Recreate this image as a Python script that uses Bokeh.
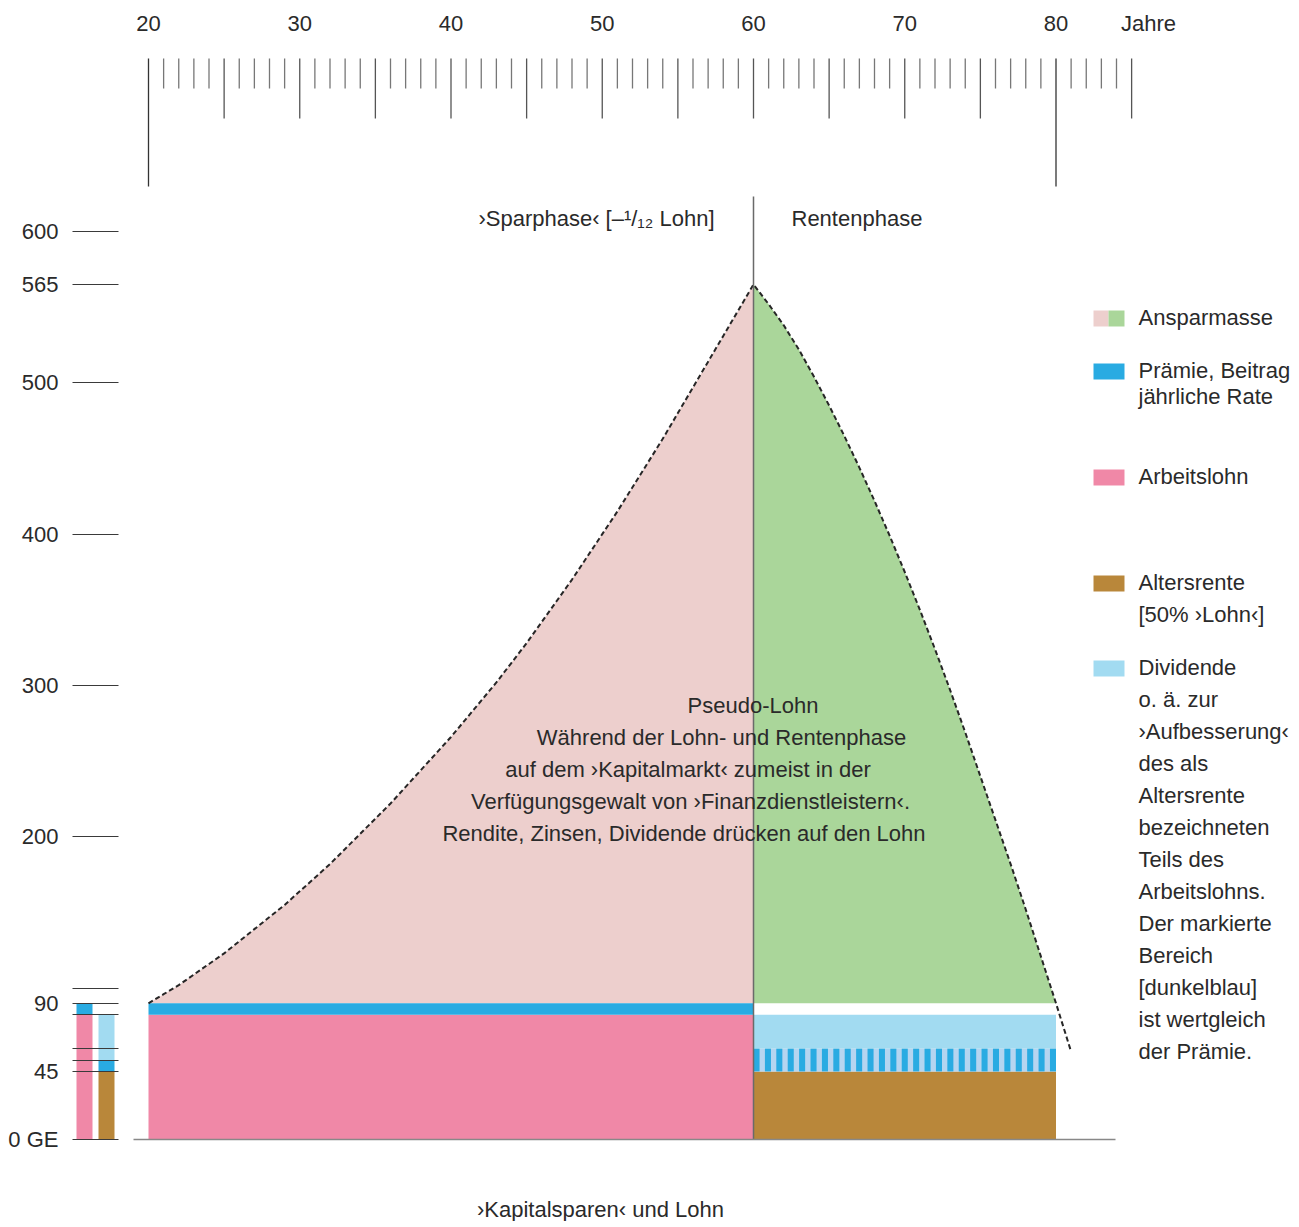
import numpy as np
from bokeh.plotting import figure
from bokeh.models import Range1d, FixedTicker
from bokeh.core.properties import value
from bokeh.embed import file_html
from bokeh.resources import INLINE

# ---------------- data ----------------
saving_years = list(range(20, 61))
saving_mass = [90, 96, 102, 109, 116, 123, 131, 139, 147, 155,
               164, 173, 182, 192, 202, 212, 222, 233, 244, 255,
               266, 278, 290, 302, 315, 328, 342, 356, 370, 385,
               400, 415, 431, 447, 463, 480, 497, 514, 531, 548, 565]
pension_years = list(range(60, 82))
pension_mass = [565, 552, 538, 522, 504, 485, 465, 444, 422, 399,
                375, 350, 324, 297, 269, 240, 211, 182, 152, 121, 90, 58]

lohn = 90            # Lohn level (GE)
arbeitslohn = 82.5   # Lohn minus 1/12
altersrente = 45     # 50% Lohn
marked_top = 60      # top of the marked (striped) band
phase_start, phase_switch, phase_end = 20, 60, 80

ruler_years = list(range(20, 86))
ruler_label_years = [20, 30, 40, 50, 60, 70, 80]
ruler_labels = ["20", "30", "40", "50", "60", "70", "80"]

y_tick_values = [0, 45, 52.5, 60, 82.5, 90, 100, 200, 300, 400, 500, 565, 600]
y_tick_labels = ["0 GE", "45", "", "", "", "90", "", "200", "300", "400", "500", "565", "600"]

legend_lines = [
    ("Ansparmasse", 317), ("Prämie, Beitrag", 370), ("jährliche Rate", 396),
    ("Arbeitslohn", 476), ("Altersrente", 582), ("[50% ›Lohn‹]", 614),
]
dividend_lines = ["Dividende", "o. ä. zur", "›Aufbesserung‹", "des als", "Altersrente",
                  "bezeichneten", "Teils des", "Arbeitslohns.", "Der markierte", "Bereich",
                  "[dunkelblau]", "ist wertgleich", "der Prämie."]
center_lines = [
    ("Pseudo-Lohn", 752.5, 705),
    ("Während der Lohn- und Rentenphase", 721, 737),
    ("auf dem ›Kapitalmarkt‹ zumeist in der", 687.5, 769),
    ("Verfügungsgewalt von ›Finanzdienstleistern‹.", 690, 801),
    ("Rendite, Zinsen, Dividende drücken auf den Lohn", 683.5, 833),
]

# ---------------- colours ----------------
C_ANSPAR_L = "#edcfcd"
C_ANSPAR_R = "#aad69a"
C_BLUE = "#29abe2"
C_PINK = "#f088a7"
C_BROWN = "#b9873a"
C_LIGHTBLUE = "#a2dbf1"
C_STRIPE_BG = "#b5d5f0"
C_TEXT = "#2a2a2a"
FONT = "Liberation Sans"
FS = "22px"

# ---------------- layout ----------------
W, H = 1293, 1221
BORDER_L = 72
PX_YEAR = 605 / 40.0
PX_UNIT = 908 / 600.0
x0 = 20 - (148 - BORDER_L) / PX_YEAR
x1 = x0 + (W - BORDER_L) / PX_YEAR
ytop = 1139 / PX_UNIT
ybot = ytop - H / PX_UNIT


def X(px):
    return x0 + (px - BORDER_L) / PX_YEAR


def Y(py):
    return ytop - py / PX_UNIT


p = figure(width=W, height=H, x_range=Range1d(x0, x1), y_range=Range1d(ybot, ytop),
           output_backend="svg", toolbar_location=None, x_axis_location=None,
           min_border_left=BORDER_L, min_border_right=0, min_border_top=0, min_border_bottom=0,
           outline_line_color=None, background_fill_color="white", border_fill_color="white")
p.xgrid.visible = False
p.ygrid.visible = False

yax = p.yaxis[0]
yax.ticker = FixedTicker(ticks=y_tick_values)
yax.major_label_overrides = dict(zip(y_tick_values, y_tick_labels))
yax.axis_line_color = None
yax.major_tick_in = 46
yax.major_tick_out = 0
yax.minor_tick_line_color = None
yax.major_tick_line_color = "#3a3a3a"
yax.major_tick_line_width = 1
yax.major_label_standoff = 14
yax.major_label_text_font = FONT
yax.major_label_text_font_size = FS
yax.major_label_text_color = C_TEXT

# --- main areas ---
p.varea(x=saving_years, y1=[lohn] * len(saving_years), y2=saving_mass, fill_color=C_ANSPAR_L)
pen_fill_x = [x for x in pension_years if x <= phase_end]
pen_fill_y = [v for x, v in zip(pension_years, pension_mass) if x <= phase_end]
p.varea(x=pen_fill_x, y1=[lohn] * len(pen_fill_x), y2=pen_fill_y, fill_color=C_ANSPAR_R)

p.quad(left=[phase_start], right=[phase_switch], bottom=[0], top=[arbeitslohn], fill_color=C_PINK, line_color=None)
p.quad(left=[phase_start], right=[phase_switch], bottom=[arbeitslohn], top=[lohn], fill_color=C_BLUE, line_color=None)
p.quad(left=[phase_switch], right=[phase_end], bottom=[0], top=[altersrente], fill_color=C_BROWN, line_color=None)
p.quad(left=[phase_switch], right=[phase_end], bottom=[marked_top], top=[arbeitslohn], fill_color=C_LIGHTBLUE, line_color=None)
p.quad(left=[phase_switch], right=[phase_end], bottom=[altersrente], top=[marked_top], fill_color=C_STRIPE_BG, line_color=None)
n_stripes = 27
period = (phase_end - phase_switch) / (n_stripes - 1 + 0.53)
st_left = phase_switch + np.arange(n_stripes) * period
p.quad(left=st_left, right=st_left + 0.53 * period, bottom=altersrente, top=marked_top,
       fill_color=C_BLUE, line_color=None)

# dashed envelope
p.line(x=saving_years + pension_years[1:], y=saving_mass + pension_mass[1:],
       line_color="#262626", line_width=2, line_dash="5 3")

# divider at 60 and base line
p.segment(x0=[phase_switch], y0=[0], x1=[phase_switch], y1=[Y(196)], line_color="#6a6a6a", line_width=1.5)
p.segment(x0=[X(133)], y0=[0], x1=[X(1115)], y1=[0], line_color="#888888", line_width=1.5)

# small composition bars on the left
bl = [X(76), X(98)]
bw = 16 / PX_YEAR
p.quad(left=[bl[0]], right=[bl[0] + bw], bottom=[0], top=[arbeitslohn], fill_color=C_PINK, line_color=None)
p.quad(left=[bl[0]], right=[bl[0] + bw], bottom=[arbeitslohn], top=[lohn], fill_color=C_BLUE, line_color=None)
p.quad(left=[bl[1]], right=[bl[1] + bw], bottom=[0], top=[altersrente], fill_color=C_BROWN, line_color=None)
p.quad(left=[bl[1]], right=[bl[1] + bw], bottom=[altersrente], top=[altersrente + (lohn - arbeitslohn)], fill_color=C_BLUE, line_color=None)
p.quad(left=[bl[1]], right=[bl[1] + bw], bottom=[altersrente + (lohn - arbeitslohn)], top=[arbeitslohn], fill_color=C_LIGHTBLUE, line_color=None)

# ---------------- top ruler ----------------
tick_bottom = []
tick_color = []
for yr in ruler_years:
    if yr in (phase_start, phase_end):
        tick_bottom.append(Y(186)); tick_color.append("#333333")
    elif yr % 5 == 0:
        tick_bottom.append(Y(118)); tick_color.append("#555555")
    else:
        tick_bottom.append(Y(88)); tick_color.append("#777777")
p.segment(x0=ruler_years, y0=[Y(58)] * len(ruler_years), x1=ruler_years, y1=tick_bottom,
          line_color=tick_color, line_width=1.3)
p.text(x=ruler_label_years, y=[Y(23)] * len(ruler_label_years), text=ruler_labels,
       text_font=value(FONT), text_font_size=FS, text_color=C_TEXT,
       text_align="center", text_baseline="middle")
p.text(x=[X(1148)], y=[Y(23)], text=["Jahre"], text_font=value(FONT), text_font_size=FS,
       text_color=C_TEXT, text_align="center", text_baseline="middle")

# phase headings
p.text(x=[X(714)], y=[Y(218)], text=["›Sparphase‹ [–¹/₁₂ Lohn]"], text_font=value(FONT),
       text_font_size=FS, text_color=C_TEXT, text_align="right", text_baseline="middle")
p.text(x=[X(791)], y=[Y(218)], text=["Rentenphase"], text_font=value(FONT),
       text_font_size=FS, text_color=C_TEXT, text_align="left", text_baseline="middle")

# centre annotation
p.text(x=[X(c[1]) for c in center_lines], y=[Y(c[2]) for c in center_lines],
       text=[c[0] for c in center_lines], text_font=value(FONT), text_font_size=FS,
       text_color=C_TEXT, text_align="center", text_baseline="middle")

# bottom caption
p.text(x=[X(600)], y=[Y(1209)], text=["›Kapitalsparen‹ und Lohn"], text_font=value(FONT),
       text_font_size=FS, text_color=C_TEXT, text_align="center", text_baseline="middle")

# ---------------- legend ----------------
sw_l, sw_r, sw_m = X(1093), X(1124), X(1108)
sw_h = 8 / PX_UNIT
p.quad(left=[sw_l], right=[sw_m], bottom=[Y(318) - sw_h], top=[Y(318) + sw_h], fill_color=C_ANSPAR_L, line_color=None)
p.quad(left=[sw_m], right=[sw_r], bottom=[Y(318) - sw_h], top=[Y(318) + sw_h], fill_color=C_ANSPAR_R, line_color=None)
sw_rows = [(371, C_BLUE), (477, C_PINK), (583, C_BROWN), (668, C_LIGHTBLUE)]
p.quad(left=[sw_l] * 4, right=[sw_r] * 4, bottom=[Y(r[0]) - sw_h for r in sw_rows],
       top=[Y(r[0]) + sw_h for r in sw_rows], fill_color=[r[1] for r in sw_rows], line_color=None)

leg_text = [t for t, _ in legend_lines] + dividend_lines
leg_y = [Y(py) for _, py in legend_lines] + [Y(667 + 32 * i) for i in range(len(dividend_lines))]
p.text(x=[X(1138)] * len(leg_text), y=leg_y, text=leg_text, text_font=value(FONT),
       text_font_size=FS, text_color=C_TEXT, text_align="left", text_baseline="middle")

open("out.html", "w").write(file_html(p, INLINE))
